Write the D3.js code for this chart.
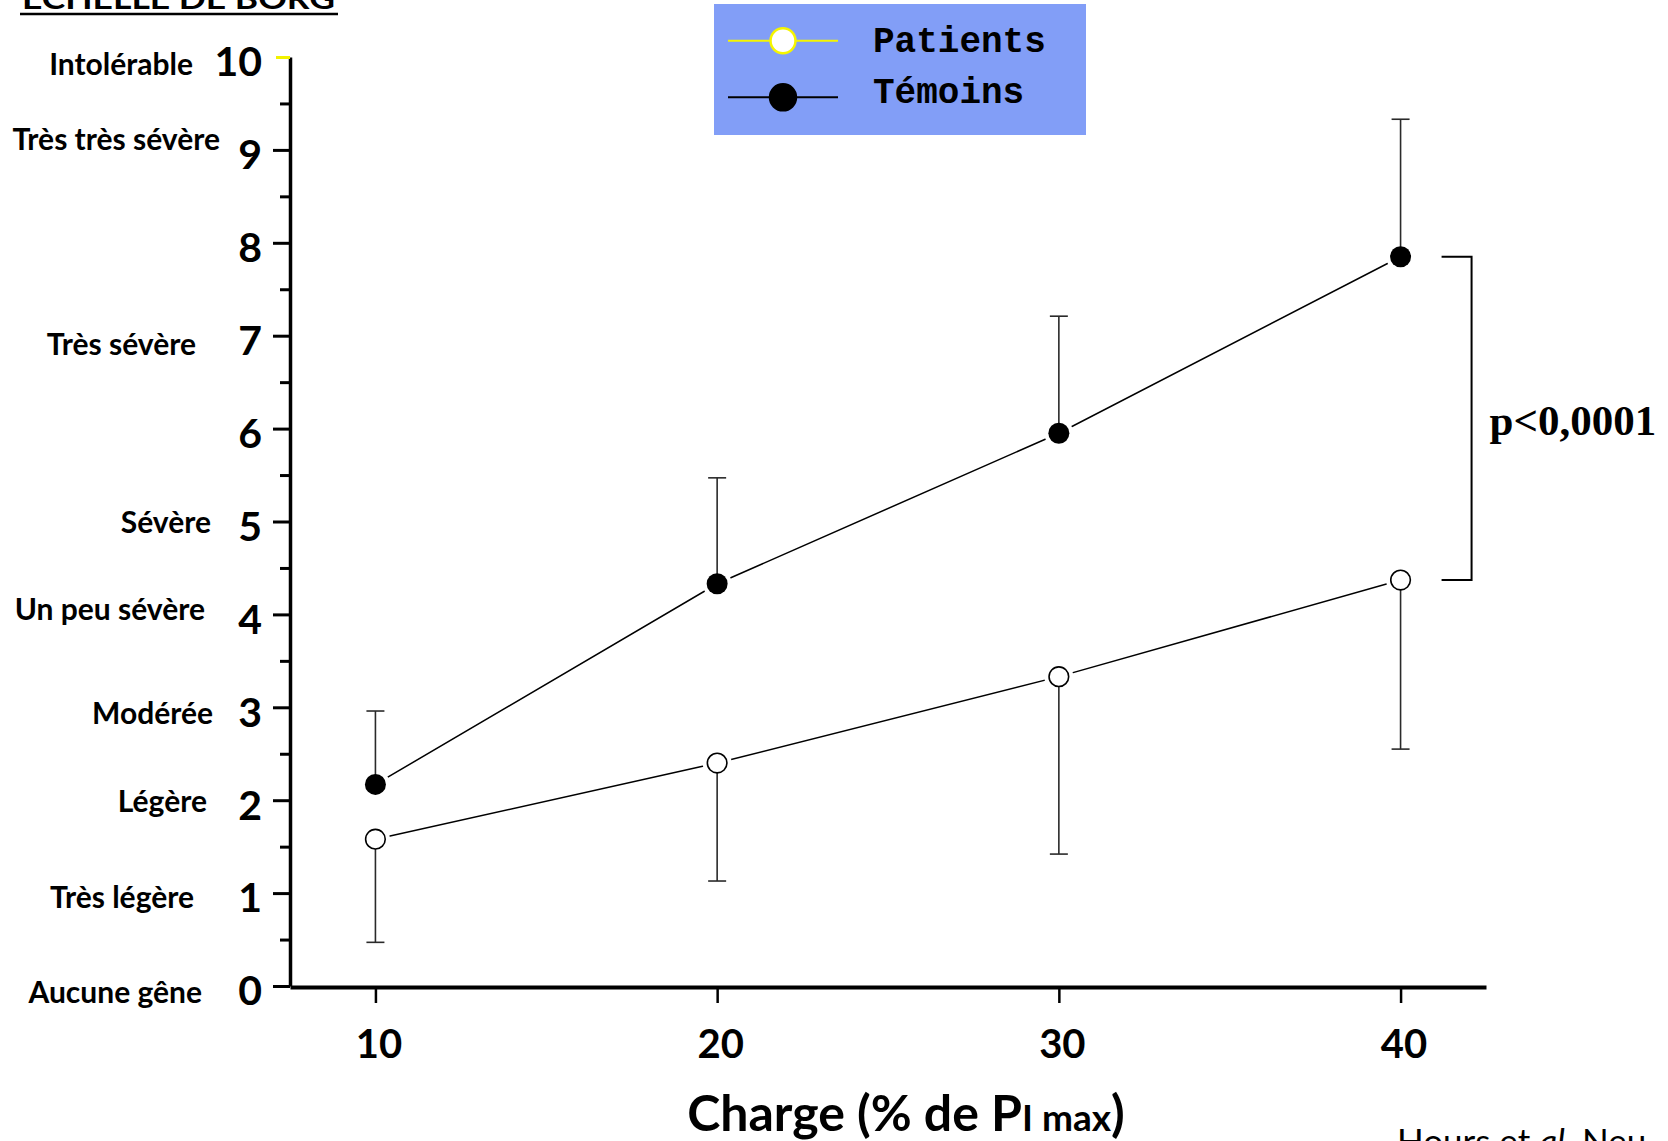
<!DOCTYPE html>
<html>
<head>
<meta charset="utf-8">
<script src="https://cdn.jsdelivr.net/npm/d3@7"></script>
<style>
  html, body { margin: 0; padding: 0; background: #fff; }
  svg { display: block; }
</style>
</head>
<body>
<script>
// Borg dyspnoea score versus inspiratory load (% of PImax)
const charges = [10, 20, 30, 40];
const temoinsMean = [2.17, 4.33, 5.95, 7.85];
const temoinsSD = [0.79, 1.14, 1.26, 1.48];
const patientsMean = [1.58, 2.40, 3.33, 4.37];
const patientsSD = [1.11, 1.27, 1.91, 1.82];

const borgTicks = [0, 1, 2, 3, 4, 5, 6, 7, 8, 9, 10];
const borgMinor = [0.5, 1.5, 2.5, 3.5, 4.5, 5.5, 6.5, 7.5, 8.5, 9.5];
const borgLevels = [10, 9, 7, 5, 4, 3, 2, 1, 0];
const borgNames = ["Intolérable", "Très très sévère", "Très sévère", "Sévère",
  "Un peu sévère", "Modérée", "Légère", "Très légère", "Aucune gêne"];
const seriesNames = ["Patients", "Témoins"];
const pLabel = "p<0,0001";

const W = 1668, H = 1141;
const sans = "Lato, 'Open Sans', sans-serif";

const svg = d3.select("body").append("svg")
  .attr("width", W).attr("height", H)
  .attr("viewBox", `0 0 ${W} ${H}`);
svg.append("rect").attr("width", W).attr("height", H).attr("fill", "#fff");

const x = d3.scaleLinear().domain([7.5, 42.5]).range([290, 1486]);
const y = d3.scaleLinear().domain([0, 10]).range([986, 57]);

// ---- title (top-left), partly above the page edge
const title = svg.append("g");
title.append("text")
  .attr("x", 22).attr("y", 9)
  .attr("font-family", sans).attr("font-weight", 700).attr("font-size", 29)
  .attr("textLength", 313).attr("lengthAdjust", "spacingAndGlyphs")
  .text("ECHELLE DE BORG");
title.append("line")
  .attr("x1", 20).attr("x2", 338).attr("y1", 14).attr("y2", 14)
  .attr("stroke", "#000").attr("stroke-width", 2.5);

// ---- y axis: minor ticks, then major ticks with numbers
const yMinor = svg.append("g").attr("transform", `translate(${x.range()[0]},0)`)
  .call(d3.axisLeft(y).tickValues(borgMinor).tickSize(10).tickSizeOuter(0).tickFormat(""));
yMinor.select(".domain").remove();
yMinor.selectAll(".tick line").attr("stroke", "#000").attr("stroke-width", 3);

const yAxis = svg.append("g").attr("transform", `translate(${x.range()[0]},0)`)
  .call(d3.axisLeft(y).tickValues(borgTicks).tickSize(17).tickSizeOuter(0).tickPadding(11));
yAxis.select(".domain").attr("stroke", "#000").attr("stroke-width", 3.5);
yAxis.selectAll(".tick line").attr("stroke", "#000").attr("stroke-width", 3);
yAxis.selectAll(".tick").filter(d => d === 10).select("line")
  .attr("stroke", "#f2f200").attr("x2", -14);
yAxis.selectAll(".tick text")
  .attr("font-family", sans).attr("font-weight", 700).attr("font-size", 41)
  .attr("fill", "#000").attr("dy", "0.46em");

// descriptive Borg labels, each hand-set beside its level: [offset from axis, baseline shift]
const nudges = { 10: [-97, 18], 9: [-70, 0], 7: [-94, 19], 5: [-79, 11], 4: [-85, 6],
  3: [-77, 17], 2: [-83, 12], 1: [-96, 15], 0: [-88, 17] };
svg.append("g").selectAll("text").data(borgLevels).join("text")
  .attr("x", d => x.range()[0] + nudges[d][0])
  .attr("y", d => y(d) + nudges[d][1])
  .attr("text-anchor", "end")
  .attr("font-family", sans).attr("font-weight", 700).attr("font-size", 30)
  .attr("fill", "#000")
  .text((d, i) => borgNames[i]);

// ---- x axis
const xAxis = svg.append("g").attr("transform", `translate(0,${y(0) + 1})`)
  .call(d3.axisBottom(x).tickValues(charges).tickSize(16).tickSizeOuter(0).tickPadding(27));
xAxis.select(".domain").attr("stroke", "#000").attr("stroke-width", 4);
xAxis.selectAll(".tick line").attr("stroke", "#000").attr("stroke-width", 2.5);
xAxis.selectAll(".tick text")
  .attr("font-family", sans).attr("font-weight", 700).attr("font-size", 40)
  .attr("fill", "#000").attr("dx", 3);

const xt = svg.append("text")
  .attr("x", 906).attr("y", 1131).attr("text-anchor", "middle")
  .attr("font-family", sans).attr("font-weight", 700).attr("font-size", 50)
  .attr("fill", "#000");
xt.append("tspan").text("Charge (% de P");
xt.append("tspan").attr("font-size", 37).text("I max");
xt.append("tspan").text(")");

// ---- data series
const temoins = charges.map((c, i) => ({ c, m: temoinsMean[i], sd: temoinsSD[i] }));
const patients = charges.map((c, i) => ({ c, m: patientsMean[i], sd: patientsSD[i] }));

const line = d3.line().x(d => x(d.c)).y(d => y(d.m));
const plot = svg.append("g");

[temoins, patients].forEach(s => {
  plot.append("path").datum(s).attr("d", line)
    .attr("fill", "none").attr("stroke", "#000").attr("stroke-width", 1.5);
});

// white halo so connecting lines stop short of each marker
[temoins, patients].forEach(s => {
  plot.append("g").selectAll("circle").data(s).join("circle")
    .attr("cx", d => x(d.c)).attr("cy", d => y(d.m)).attr("r", 14.5)
    .attr("fill", "#fff");
});

// error bars: controls upward, patients downward
const cap = 9;
function errorBars(data, dir) {
  const g = plot.append("g").attr("stroke", "#2a2a2a").attr("stroke-width", 1.6);
  g.selectAll("line.v").data(data).join("line").attr("class", "v")
    .attr("x1", d => x(d.c)).attr("x2", d => x(d.c))
    .attr("y1", d => y(d.m)).attr("y2", d => y(d.m + dir * d.sd));
  g.selectAll("line.c").data(data).join("line").attr("class", "c")
    .attr("x1", d => x(d.c) - cap).attr("x2", d => x(d.c) + cap)
    .attr("y1", d => y(d.m + dir * d.sd)).attr("y2", d => y(d.m + dir * d.sd));
}
errorBars(temoins, 1);
errorBars(patients, -1);

plot.append("g").selectAll("circle").data(temoins).join("circle")
  .attr("cx", d => x(d.c)).attr("cy", d => y(d.m)).attr("r", 10.5)
  .attr("fill", "#000");
plot.append("g").selectAll("circle").data(patients).join("circle")
  .attr("cx", d => x(d.c)).attr("cy", d => y(d.m)).attr("r", 9.8)
  .attr("fill", "#fff").attr("stroke", "#000").attr("stroke-width", 1.6);

// ---- significance bracket between the last points
const last = charges.length - 1;
const bx = x(charges[last]) + 41, bw = 30;
const bTop = y(temoinsMean[last]), bBot = y(patientsMean[last]);
svg.append("path")
  .attr("d", `M${bx},${bTop}H${bx + bw}V${bBot}H${bx}`)
  .attr("fill", "none").attr("stroke", "#000").attr("stroke-width", 2);
svg.append("text")
  .attr("x", bx + bw + 18).attr("y", (bTop + bBot) / 2 + 17)
  .attr("font-family", "'Times New Roman', 'Liberation Serif', serif")
  .attr("font-weight", 700).attr("font-size", 43).attr("fill", "#000")
  .text(pLabel);

// ---- legend
const lg = svg.append("g").attr("transform", "translate(714,4)");
lg.append("rect").attr("width", 372).attr("height", 131).attr("fill", "#829ef7");
const legendStyles = [
  { stroke: "#f5f500", fill: "#fff", width: 2, r: 12.5, cy: 36.7, ty: 48 },
  { stroke: "#000", fill: "#000", width: 2, r: 13, cy: 93.3, ty: 99 }
];
seriesNames.forEach((name, i) => {
  const st = legendStyles[i];
  lg.append("line").attr("x1", 14).attr("x2", 124).attr("y1", st.cy).attr("y2", st.cy)
    .attr("stroke", st.stroke).attr("stroke-width", st.width);
  lg.append("circle").attr("cx", 69).attr("cy", st.cy).attr("r", st.r)
    .attr("fill", st.fill).attr("stroke", st.stroke).attr("stroke-width", 2.5);
  lg.append("text").attr("x", 159).attr("y", st.ty)
    .attr("font-family", "'Courier New', 'Liberation Mono', monospace")
    .attr("font-weight", 700).attr("font-size", 36).attr("fill", "#000")
    .text(name);
});

// ---- source note (bottom-right, running off the page)
const src = svg.append("text").attr("x", 1397).attr("y", 1154)
  .attr("font-family", sans).attr("font-size", 35).attr("fill", "#000");
src.append("tspan").text("Hours et ");
src.append("tspan").attr("font-style", "italic").text("al.");
src.append("tspan").text(" Neu");
</script>
</body>
</html>
